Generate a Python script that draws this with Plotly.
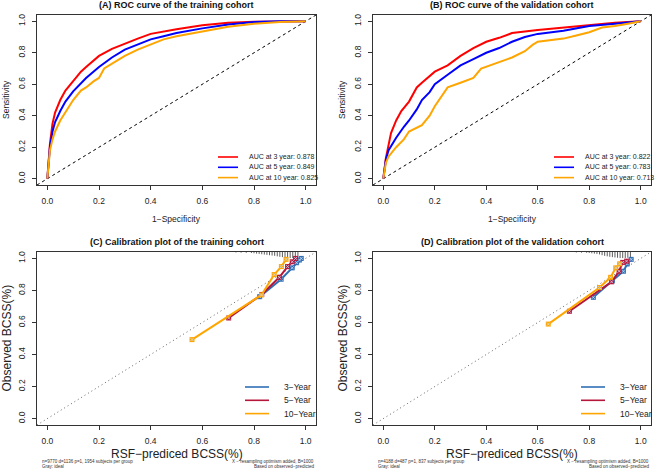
"""ROC curves and calibration plots for training and validation cohorts"""

import plotly.graph_objects as go

W, H = 668, 470

# ---- ROC, training cohort ----
roc_a_fpr_3y = [0.0, 0.005, 0.01, 0.02, 0.03, 0.05, 0.07, 0.1, 0.13, 0.15, 0.2, 0.25, 0.3, 0.35, 0.4, 0.45, 0.5, 0.6, 0.7, 0.8, 0.9, 1.0]
roc_a_tpr_3y = [0.0, 0.12, 0.22, 0.35, 0.42, 0.5, 0.56, 0.62, 0.68, 0.71, 0.78, 0.825, 0.86, 0.89, 0.92, 0.935, 0.95, 0.975, 0.99, 0.997, 1.0, 1.0]
roc_a_fpr_5y = [0.0, 0.005, 0.01, 0.02, 0.03, 0.05, 0.07, 0.1, 0.13, 0.15, 0.2, 0.25, 0.3, 0.35, 0.4, 0.45, 0.5, 0.6, 0.7, 0.8, 0.9, 1.0]
roc_a_tpr_5y = [0.0, 0.1, 0.2, 0.3, 0.36, 0.43, 0.49, 0.555, 0.61, 0.64, 0.71, 0.77, 0.82, 0.85, 0.885, 0.905, 0.925, 0.955, 0.98, 0.995, 1.0, 1.0]
roc_a_fpr_10y = [0.0, 0.005, 0.01, 0.02, 0.03, 0.05, 0.07, 0.1, 0.13, 0.15, 0.18, 0.2, 0.22, 0.25, 0.3, 0.35, 0.4, 0.45, 0.5, 0.6, 0.7, 0.8, 0.9, 1.0]
roc_a_tpr_10y = [0.0, 0.1, 0.18, 0.25, 0.3, 0.37, 0.42, 0.5, 0.56, 0.58, 0.62, 0.64, 0.7, 0.73, 0.78, 0.82, 0.855, 0.885, 0.905, 0.935, 0.965, 0.985, 0.995, 1.0]

# ---- ROC, validation cohort ----
roc_b_fpr_3y = [0.0, 0.01, 0.02, 0.03, 0.05, 0.07, 0.1, 0.13, 0.15, 0.2, 0.25, 0.3, 0.35, 0.4, 0.45, 0.5, 0.6, 0.7, 0.8, 0.9, 1.0]
roc_b_tpr_3y = [0.0, 0.13, 0.21, 0.29, 0.37, 0.43, 0.49, 0.58, 0.61, 0.68, 0.72, 0.78, 0.83, 0.87, 0.895, 0.925, 0.945, 0.96, 0.975, 0.99, 1.0]
roc_b_fpr_5y = [0.0, 0.01, 0.02, 0.05, 0.08, 0.1, 0.13, 0.15, 0.18, 0.2, 0.25, 0.3, 0.35, 0.4, 0.45, 0.5, 0.55, 0.6, 0.7, 0.8, 0.9, 1.0]
roc_b_tpr_5y = [0.0, 0.12, 0.18, 0.26, 0.33, 0.37, 0.44, 0.5, 0.55, 0.6, 0.66, 0.72, 0.76, 0.8, 0.83, 0.87, 0.9, 0.92, 0.94, 0.97, 0.985, 1.0]
roc_b_fpr_10y = [0.0, 0.01, 0.02, 0.05, 0.08, 0.1, 0.15, 0.18, 0.2, 0.23, 0.25, 0.3, 0.35, 0.38, 0.45, 0.5, 0.55, 0.58, 0.6, 0.7, 0.75, 0.8, 0.85, 0.9, 0.95, 1.0]
roc_b_tpr_10y = [0.0, 0.1, 0.14, 0.2, 0.25, 0.3, 0.34, 0.4, 0.46, 0.53, 0.58, 0.61, 0.64, 0.7, 0.74, 0.77, 0.81, 0.85, 0.87, 0.89, 0.91, 0.93, 0.96, 0.97, 0.985, 1.0]

roc_a_names = ["AUC at 3 year: 0.878", "AUC at 5 year: 0.849", "AUC at 10 year: 0.825"]
roc_b_names = ["AUC at 3 year: 0.822", "AUC at 5 year: 0.783", "AUC at 10 year: 0.713"]
roc_colors = ["#FF0000", "#0000FF", "#FFA500"]

# ---- calibration, training cohort ----
cal_c_pred_3y = [0.822, 0.905, 0.948, 0.965, 0.976, 0.983]
cal_c_obs_3y = [0.761, 0.87, 0.941, 0.973, 0.99, 1.0]
cal_c_pred_5y = [0.702, 0.83, 0.898, 0.93, 0.948, 0.961]
cal_c_obs_5y = [0.628, 0.775, 0.882, 0.949, 0.979, 1.0]
cal_c_pred_10y = [0.56, 0.829, 0.878, 0.906, 0.924]
cal_c_obs_10y = [0.493, 0.772, 0.899, 0.949, 0.994]

# ---- calibration, validation cohort ----
cal_d_pred_3y = [0.816, 0.89, 0.933, 0.948, 0.963]
cal_d_obs_3y = [0.757, 0.86, 0.92, 0.966, 0.994]
cal_d_pred_5y = [0.723, 0.887, 0.916, 0.93, 0.945]
cal_d_obs_5y = [0.670, 0.854, 0.92, 0.975, 0.983]
cal_d_pred_10y = [0.641, 0.84, 0.883, 0.903, 0.918]
cal_d_obs_10y = [0.59, 0.818, 0.882, 0.941, 0.966]

cal_names = ["3\u2212Year", "5\u2212Year", "10\u2212Year"]
cal_colors = ["#2F6EB5", "#B5163A", "#FFA500"]

# spike histogram of predicted values along the top of the calibration plots
rug_c_x = [0.73, 0.75, 0.77, 0.79, 0.8, 0.81, 0.82, 0.83, 0.84, 0.85, 0.86, 0.87, 0.88, 0.89, 0.9,
           0.91, 0.92, 0.93, 0.94, 0.95, 0.96, 0.97]
rug_c_len = [0.003, 0.004, 0.005, 0.006, 0.008, 0.01, 0.012, 0.014, 0.016, 0.018, 0.02, 0.022, 0.024, 0.027,
             0.03, 0.032, 0.034, 0.036, 0.038, 0.038, 0.036, 0.03]
rug_d_x = [0.75, 0.77, 0.79, 0.8, 0.81, 0.82, 0.83, 0.84, 0.85, 0.86, 0.87, 0.88, 0.89, 0.9,
           0.91, 0.92, 0.93, 0.94, 0.95, 0.96]
rug_d_len = [0.003, 0.004, 0.005, 0.006, 0.008, 0.01, 0.012, 0.015, 0.02, 0.024, 0.027, 0.03, 0.032,
             0.034, 0.036, 0.038, 0.038, 0.038, 0.036, 0.032]

titles = ["(A) ROC curve of the training cohort", "(B) ROC curve of the validation cohort",
          "(C) Calibration plot of the training cohort", "(D) Calibration plot of the validation cohort"]

FONT = "Liberation Sans, Arial, sans-serif"
LO, HI = -0.04, 1.04

# plot boxes in pixels: left, right, top, bottom
boxes = [(37, 316, 15, 185), (373, 651, 15, 185), (37, 316, 252, 425), (373, 651, 252, 425)]

fig = go.Figure()

roc_series = [
    (1, roc_a_names, [(roc_a_fpr_3y, roc_a_tpr_3y), (roc_a_fpr_5y, roc_a_tpr_5y), (roc_a_fpr_10y, roc_a_tpr_10y)]),
    (2, roc_b_names, [(roc_b_fpr_3y, roc_b_tpr_3y), (roc_b_fpr_5y, roc_b_tpr_5y), (roc_b_fpr_10y, roc_b_tpr_10y)]),
]
cal_series = [
    (3, rug_c_x, rug_c_len, [(cal_c_pred_3y, cal_c_obs_3y), (cal_c_pred_5y, cal_c_obs_5y), (cal_c_pred_10y, cal_c_obs_10y)]),
    (4, rug_d_x, rug_d_len, [(cal_d_pred_3y, cal_d_obs_3y), (cal_d_pred_5y, cal_d_obs_5y), (cal_d_pred_10y, cal_d_obs_10y)]),
]


def ax(i):
    return ("x" if i == 1 else f"x{i}"), ("y" if i == 1 else f"y{i}")


# reference diagonals
for i in range(1, 5):
    xa, ya = ax(i)
    fig.add_trace(go.Scatter(
        x=[LO, HI], y=[LO, HI], mode="lines", xaxis=xa, yaxis=ya, showlegend=False, hoverinfo="skip",
        line=dict(color="black" if i <= 2 else "#666666", width=1, dash="3px,3px" if i <= 2 else "1px,3px")))

for i, names, curves in roc_series:
    xa, ya = ax(i)
    for (fpr, tpr), name, color in zip(curves, names, roc_colors):
        fig.add_trace(go.Scatter(x=fpr, y=tpr, mode="lines", name=name, xaxis=xa, yaxis=ya,
                                 showlegend=False, line=dict(color=color, width=2)))

for i, rx, rl, curves in cal_series:
    xa, ya = ax(i)
    sx, sy = [], []
    for x, l in zip(rx, rl):
        sx += [x, x, None]
        sy += [HI, HI - l, None]
    fig.add_trace(go.Scatter(x=sx, y=sy, mode="lines", xaxis=xa, yaxis=ya, showlegend=False,
                             hoverinfo="skip", line=dict(color="#333333", width=0.8)))
    for (pred, obs), name, color in zip(curves, cal_names, cal_colors):
        fig.add_trace(go.Scatter(x=pred, y=obs, mode="lines+markers", name=name, xaxis=xa, yaxis=ya,
                                 showlegend=False, line=dict(color=color, width=2),
                                 marker=dict(symbol="square", size=5, color=color)))
        fig.add_trace(go.Scatter(x=pred, y=obs, mode="markers", xaxis=xa, yaxis=ya, showlegend=False,
                                 hoverinfo="skip",
                                 marker=dict(symbol="x-thin", size=3, line=dict(color="#C9DDF5", width=0.8))))

annotations = []
shapes = []
ticks = [0, 0.2, 0.4, 0.6, 0.8, 1.0]
layout_axes = {}
for i, (l, r, t, b) in enumerate(boxes, start=1):
    sfx = "" if i == 1 else str(i)
    common = dict(range=[LO, HI], tickvals=ticks, ticktext=[f"{v:.1f}" for v in ticks],
                  ticks="outside", ticklen=4, tickcolor="#333333", showline=True, mirror=True,
                  linecolor="#333333", linewidth=1, showgrid=False, zeroline=False,
                  tickfont=dict(family=FONT, size=8.5, color="#222222"))
    layout_axes[f"xaxis{sfx}"] = dict(common, domain=[l / W, r / W], anchor=f"y{sfx}", ticklabelstandoff=4)
    layout_axes[f"yaxis{sfx}"] = dict(common, domain=[1 - b / H, 1 - t / H], anchor=f"x{sfx}",
                                      tickangle=-90, ticklabelstandoff=4)
    cx = (l + r) / 2
    annotations.append(dict(text=f"<b>{titles[i - 1]}</b>", x=cx / W, y=1 - (t - 10) / H,
                            font=dict(family=FONT, size=9, color="#111111")))
    if i <= 2:
        annotations.append(dict(text="1\u2212Specificity", x=cx / W, y=1 - (b + 34) / H,
                                font=dict(family=FONT, size=8.5, color="#222222")))
        annotations.append(dict(text="Sensitivity", x=(l - 31) / W, y=1 - (t + b) / 2 / H, textangle=-90,
                                font=dict(family=FONT, size=8.5, color="#222222")))
        names = roc_a_names if i == 1 else roc_b_names
        for k, (name, color) in enumerate(zip(names, roc_colors)):
            yy = b - 28 + k * 10.3
            shapes.append(dict(type="line", xref="paper", yref="paper", x0=(l + 181) / W, x1=(l + 201) / W,
                               y0=1 - yy / H, y1=1 - yy / H, line=dict(color=color, width=1.6)))
            annotations.append(dict(text=name, x=(l + 210) / W, y=1 - yy / H, xanchor="left",
                                    font=dict(family=FONT, size=7, color="#222222")))
    else:
        annotations.append(dict(text="RSF\u2212prediced BCSS(%)", x=cx / W, y=1 - (b + 29) / H,
                                font=dict(family=FONT, size=12, color="#222222")))
        annotations.append(dict(text="Observed BCSS(%)", x=(l - 31) / W, y=1 - (t + b) / 2 / H,
                                textangle=-90, font=dict(family=FONT, size=12, color="#222222")))
        for k, (name, color) in enumerate(zip(cal_names, cal_colors)):
            yy = b - 38 + k * 13.3
            shapes.append(dict(type="line", xref="paper", yref="paper", x0=(l + 208) / W, x1=(l + 232) / W,
                               y0=1 - yy / H, y1=1 - yy / H, line=dict(color=color, width=1.6)))
            annotations.append(dict(text=name, x=(l + 245) / W, y=1 - yy / H, xanchor="left",
                                    font=dict(family=FONT, size=8.5, color="#222222")))
        counts = ("n=9770 d=1136 p=1, 1954 subjects per group" if i == 3
                  else "n=4188 d=487 p=1, 837 subjects per group")
        small = dict(family=FONT, size=4.5, color="#333333")
        annotations.append(dict(text=counts, x=(l + 3) / W, y=1 - (b + 36.5) / H, xanchor="left", font=small))
        annotations.append(dict(text="Gray: ideal", x=(l + 3) / W, y=1 - (b + 41) / H, xanchor="left", font=small))
        annotations.append(dict(text="X \u2212 resampling optimism added, B=1000", x=r / W, y=1 - (b + 36.5) / H,
                                xanchor="right", font=small))
        annotations.append(dict(text="Based on observed\u2212predicted", x=r / W, y=1 - (b + 41) / H,
                                xanchor="right", font=small))

for a in annotations:
    a.update(xref="paper", yref="paper", showarrow=False)
    a.setdefault("xanchor", "center")
    a.setdefault("yanchor", "middle")

fig.update_layout(
    width=W, height=H, margin=dict(l=0, r=0, t=0, b=0),
    paper_bgcolor="white", plot_bgcolor="white",
    font=dict(family=FONT), showlegend=False,
    annotations=annotations, shapes=shapes, **layout_axes)

# drop the page's default body margin and scrollbars so the figure sits at the window's corner
fig.write_html("out.html", config={"displayModeBar": False},
               post_script="document.body.style.margin='0'; document.body.style.overflow='hidden';")
